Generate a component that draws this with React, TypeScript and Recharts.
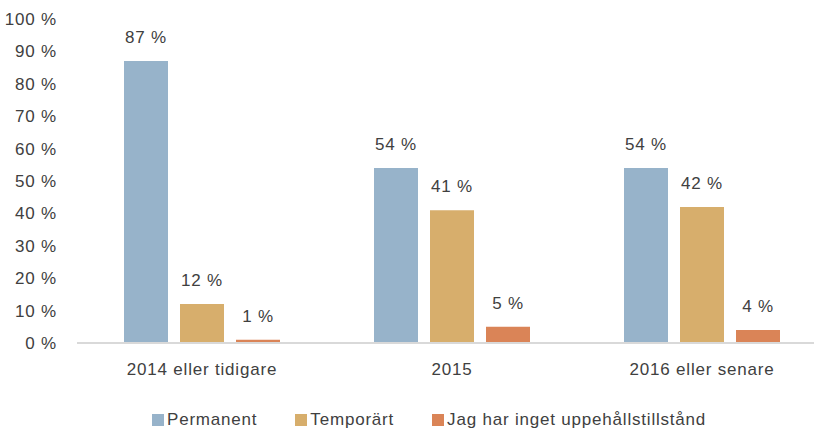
import { Bar, BarChart, LabelList, XAxis, YAxis } from "recharts";

const categories = ["2014 eller tidigare", "2015", "2016 eller senare"];
const permanent = [87, 54, 54];
const temporart = [12, 41, 42];
const ingetTillstand = [1, 5, 4];
const seriesNames = ["Permanent", "Temporärt", "Jag har inget uppehållstillstånd"];
const yTicks = [0, 10, 20, 30, 40, 50, 60, 70, 80, 90, 100];

const colors = ["#97B3CA", "#D7AE6C", "#DA8457"];
const keys = ["permanent", "temporart", "inget"];
const textColor = "#404040";
const font = "'Liberation Sans', Arial, sans-serif";

const data = categories.map((name, i) => ({
  name,
  permanent: permanent[i],
  temporart: temporart[i],
  inget: ingetTillstand[i],
}));

const pct = (v: number) => `${v} %`;
const tickStyle = { fill: textColor, fontSize: 17, fontFamily: font, letterSpacing: 0.8 };

export default function App() {
  return (
    <div
      style={{
        position: "fixed",
        left: 0,
        top: 0,
        width: 814,
        height: 432,
        overflow: "hidden",
        background: "#fff",
        fontFamily: font,
      }}
    >
      <BarChart
        width={827}
        height={432}
        data={data}
        margin={{ top: 19, right: 0, left: 0, bottom: 0 }}
        barSize={44}
        barGap={12}
      >
        <XAxis
          dataKey="name"
          height={89}
          axisLine={{ stroke: "#D9D9D9", strokeWidth: 2 }}
          tickLine={false}
          tickSize={0}
          tickMargin={20}
          tick={tickStyle}
          interval={0}
        />
        <YAxis
          width={77}
          domain={[0, 100]}
          ticks={yTicks}
          tickFormatter={pct}
          axisLine={false}
          tickLine={false}
          tickSize={0}
          tickMargin={20}
          tick={tickStyle}
        />
        {keys.map((k, i) => (
          <Bar key={k} dataKey={k} name={seriesNames[i]} fill={colors[i]} isAnimationActive={false}>
            <LabelList
              dataKey={k}
              position="top"
              offset={18}
              formatter={pct}
              style={{ fill: textColor, fontSize: 17, fontFamily: font, letterSpacing: 0.8 }}
            />
          </Bar>
        ))}
      </BarChart>
      <div
        style={{
          position: "absolute",
          left: 152,
          top: 409,
          height: 22,
          display: "flex",
          alignItems: "center",
          gap: 38,
          fontSize: 17,
          letterSpacing: 0.8,
          color: textColor,
          whiteSpace: "nowrap",
        }}
      >
        {seriesNames.map((n, i) => (
          <div key={n} style={{ display: "flex", alignItems: "center" }}>
            <span style={{ width: 12, height: 12, background: colors[i], marginRight: 3, display: "inline-block" }} />
            <span>{n}</span>
          </div>
        ))}
      </div>
    </div>
  );
}
